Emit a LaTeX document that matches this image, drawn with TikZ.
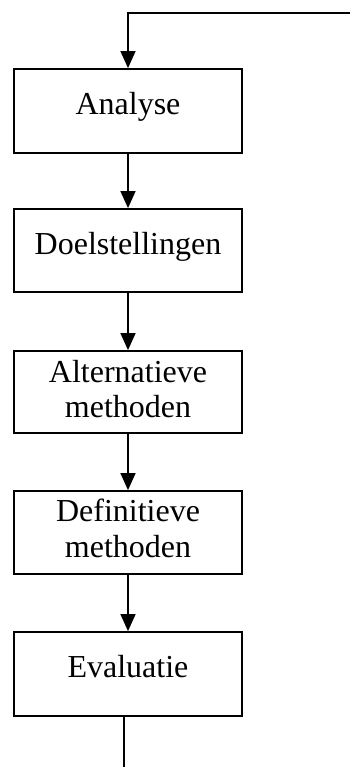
\documentclass[tikz,border=0pt]{standalone}
\usepackage{fontspec}
\setmainfont{Liberation Serif}
\usetikzlibrary{arrows.meta}
\begin{document}
\begin{tikzpicture}[x=1pt,y=-1pt,
  box/.style={draw=black,line width=1.8pt,minimum width=228pt,inner sep=0pt,fill=white},
  lbl/.style={anchor=base,inner sep=0pt,font=\fontsize{32}{36}\selectfont},
  conn/.style={line width=1.5pt,-{Triangle[length=17pt,width=15pt]}},
  plain/.style={line width=1.5pt}]
\useasboundingbox (0,0) rectangle (350,767);
\node[box,minimum height=84pt] (a) at (128,111) {};
\node[lbl] (ta) at (128,115) {Analyse};
\node[box,minimum height=83pt] (d) at (128,250.5) {};
\node[lbl] (td) at (128,254) {Doelstellingen};
\node[box,minimum height=82pt] (al) at (128,392) {};
\node[lbl] (tal1) at (128,382) {Alternatieve};
\node[lbl] (tal2) at (128,417) {methoden};
\node[box,minimum height=83pt] (de) at (128,532.5) {};
\node[lbl] (tde1) at (128,521) {Definitieve};
\node[lbl] (tde2) at (128,557) {methoden};
\node[box,minimum height=84pt] (e) at (128,674) {};
\node[lbl] (te) at (128,677) {Evaluatie};
\coordinate (top) at (350,13);
\coordinate (bot) at (124,767);
\draw[conn] (top) -| (a.north);
\draw[conn] (a) -- (d);
\draw[conn] (d) -- (al);
\draw[conn] (al) -- (de);
\draw[conn] (de) -- (e);
\draw[plain] (bot |- e.south) -- (bot);
\end{tikzpicture}
\end{document}
